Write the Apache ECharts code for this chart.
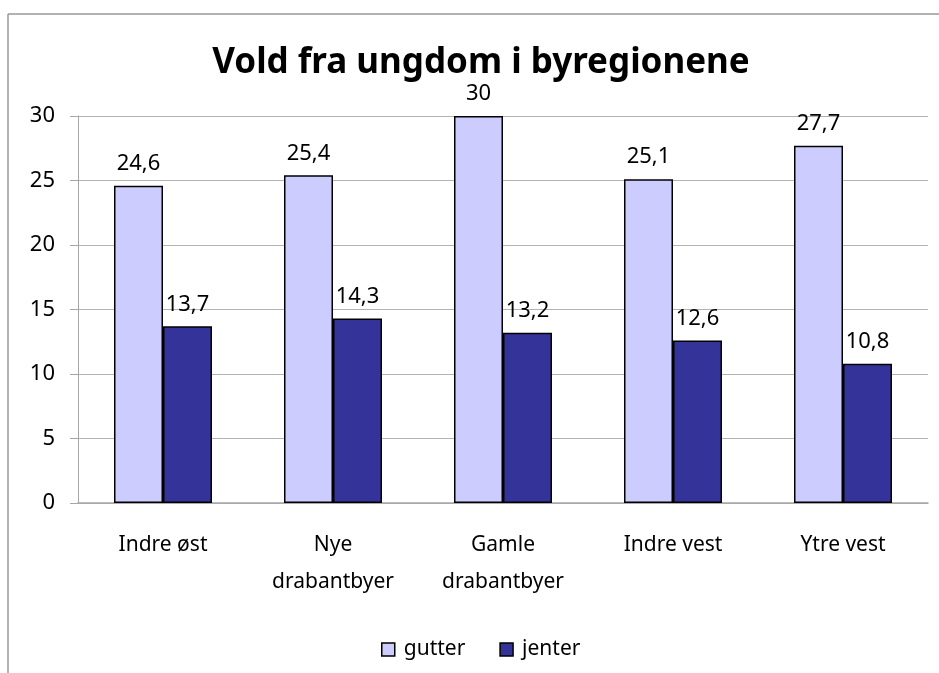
<!DOCTYPE html>
<html>
<head>
<meta charset="utf-8">
<script src="https://cdn.jsdelivr.net/npm/echarts@6/dist/echarts.min.js"></script>
<style>
  html, body { margin: 0; padding: 0; background: #fff; }
  #chart { width: 939px; height: 673px; }
</style>
</head>
<body>
<div id="chart"></div>
<script>
// data
const categories = ['Indre øst', 'Nye\ndrabantbyer', 'Gamle\ndrabantbyer', 'Indre vest', 'Ytre vest']
const gutter = [24.6, 25.4, 30, 25.1, 27.7]
const jenter = [13.7, 14.3, 13.2, 12.6, 10.8]

const font = 'Noto Sans'
const commaFmt = (p) => String(p.value).replace('.', ',')

const chart = echarts.init(document.getElementById('chart'))

chart.setOption({
  backgroundColor: '#fff',
  animation: false,
  title: {
    text: 'Vold fra ungdom i byregionene',
    left: 476,
    textAlign: 'center',
    top: 41,
    textStyle: { fontFamily: font, fontWeight: 'bold', fontSize: 35, color: '#000' },
  },
  legend: {
    bottom: 8,
    left: 376,
    itemWidth: 13,
    itemHeight: 13,
    itemGap: 34,
    icon: 'rect',
    textStyle: { fontFamily: font, fontSize: 21, color: '#000', padding: [0, 0, 0, 4] },
    itemStyle: { borderColor: '#000', borderWidth: 1.5 },
  },
  grid: { left: 78, right: 11, top: 116, height: 387 },
  xAxis: {
    type: 'category',
    data: categories,
    axisLine: { lineStyle: { color: '#a6a6a6', width: 1.5 } },
    axisTick: { length: 7, lineStyle: { color: '#a6a6a6' } },
    axisLabel: { margin: 24, color: '#000', fontFamily: font, fontSize: 21, lineHeight: 37 },
  },
  yAxis: {
    type: 'value',
    min: 0,
    max: 30,
    interval: 5,
    axisLine: { show: true, lineStyle: { color: '#a6a6a6' } },
    axisTick: { show: true, length: 8, lineStyle: { color: '#a6a6a6' } },
    axisLabel: { margin: 23, fontFamily: font, fontSize: 22, color: '#000' },
    splitLine: { lineStyle: { color: '#b3b3b3' } },
  },
  series: [
    {
      name: 'gutter',
      type: 'bar',
      data: gutter,
      barWidth: 49,
      barGap: '0%',
      itemStyle: { color: '#ccccff', borderColor: '#000', borderWidth: 1.5 },
      label: { show: true, position: 'top', distance: 11, formatter: commaFmt, fontFamily: font, fontSize: 22, color: '#000' },
    },
    {
      name: 'jenter',
      type: 'bar',
      data: jenter,
      barWidth: 49,
      itemStyle: { color: '#333399', borderColor: '#000', borderWidth: 1.5 },
      label: { show: true, position: 'top', distance: 11, formatter: commaFmt, fontFamily: font, fontSize: 22, color: '#000' },
    },
  ],
  graphic: [
    { type: 'line', silent: true, shape: { x1: 8, y1: 14, x2: 939, y2: 14 }, style: { stroke: '#999', lineWidth: 1.5 } },
    { type: 'line', silent: true, shape: { x1: 8, y1: 14, x2: 8, y2: 673 }, style: { stroke: '#999', lineWidth: 1.5 } },
  ],
})
</script>
</body>
</html>
